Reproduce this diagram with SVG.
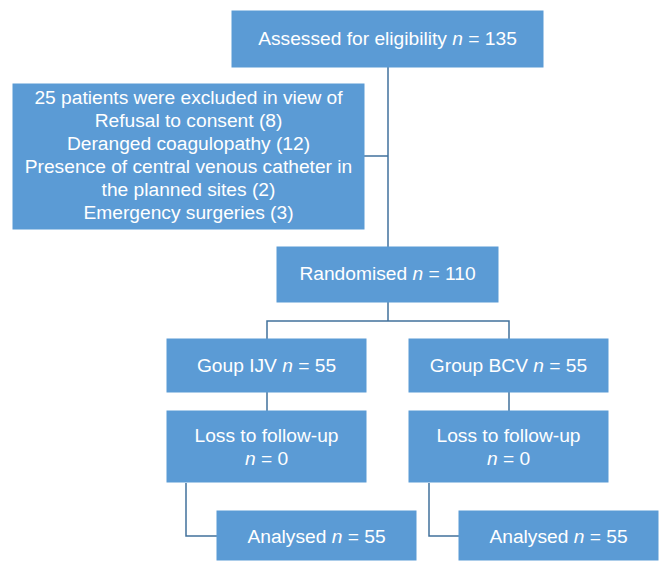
<svg xmlns="http://www.w3.org/2000/svg" width="661" height="561" viewBox="0 0 661 561">
<style>
.box{fill:#5B9BD5;stroke:#5B9BD5;stroke-width:1}
.t{font-family:"Liberation Sans",Arial,sans-serif;font-size:19.2px;fill:#fff;text-anchor:middle}
.c{fill:none;stroke:#41719C;stroke-width:1.5}
</style>
<rect width="661" height="561" fill="#fff"/>
<g id="connectors">
<path class="c" d="M388 67V247"/>
<path class="c" d="M364 156H388"/>
<path class="c" d="M388 302V321M267 339V321H509V339"/>
<path class="c" d="M267 392V411M509 392V411"/>
<path class="c" d="M186 483V536H217"/>
<path class="c" d="M429 483V536H459"/>
</g>
<g id="assessed"><rect class="box" x="232" y="11" width="311" height="56"/><text class="t" x="387.5" y="44.5">Assessed for eligibility <tspan font-style="italic">n</tspan> = 135</text></g>
<g id="excluded"><rect class="box" x="13" y="84" width="351" height="145"/>
<text class="t" x="188.5" y="104">25 patients were excluded in view of</text>
<text class="t" x="188.5" y="127">Refusal to consent (8)</text>
<text class="t" x="188.5" y="150">Deranged coagulopathy (12)</text>
<text class="t" x="188.5" y="173">Presence of central venous catheter in</text>
<text class="t" x="188.5" y="196">the planned sites (2)</text>
<text class="t" x="188.5" y="219">Emergency surgeries (3)</text>
</g>
<g id="randomised"><rect class="box" x="277" y="247" width="221" height="55"/><text class="t" x="387.5" y="280">Randomised <tspan font-style="italic">n</tspan> = 110</text></g>
<g id="ijv"><rect class="box" x="167" y="339" width="199" height="53"/><text class="t" x="266.5" y="371.5">Goup IJV <tspan font-style="italic">n</tspan> = 55</text></g>
<g id="bcv"><rect class="box" x="409" y="339" width="199" height="53"/><text class="t" x="508.5" y="371.5">Group BCV <tspan font-style="italic">n</tspan> = 55</text></g>
<g id="loss-ijv"><rect class="box" x="167" y="411" width="199" height="71"/><text class="t" x="266.5" y="442">Loss to follow-up</text><text class="t" x="266.5" y="465"><tspan font-style="italic">n</tspan> = 0</text></g>
<g id="loss-bcv"><rect class="box" x="409" y="411" width="199" height="71"/><text class="t" x="508.5" y="442">Loss to follow-up</text><text class="t" x="508.5" y="465"><tspan font-style="italic">n</tspan> = 0</text></g>
<g id="analysed-ijv"><rect class="box" x="217" y="511" width="199" height="49"/><text class="t" x="316.5" y="543">Analysed <tspan font-style="italic">n</tspan> = 55</text></g>
<g id="analysed-bcv"><rect class="box" x="459" y="511" width="199" height="49"/><text class="t" x="558.5" y="543">Analysed <tspan font-style="italic">n</tspan> = 55</text></g>
</svg>
